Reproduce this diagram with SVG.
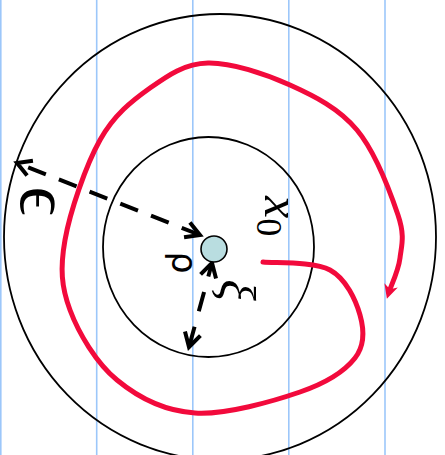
<svg xmlns="http://www.w3.org/2000/svg" width="445" height="455" viewBox="0 0 445 455">
<style>
.grid{stroke:#9cc7fa;stroke-width:1.6}
.ring{fill:none;stroke:#000;stroke-width:1.8}
.dash{fill:none;stroke:#000;stroke-width:4}
.red{fill:none;stroke:#f20a3c;stroke-width:5;stroke-linecap:round}
.serif{font-family:"Liberation Serif","DejaVu Serif",serif;fill:#000}
.sans{font-family:"DejaVu Sans","Liberation Sans",sans-serif;fill:#000}
</style>
<defs>
<marker id="ah" markerUnits="userSpaceOnUse" viewBox="-20 -12 26 24" refX="0" refY="0" markerWidth="26" markerHeight="24" orient="auto-start-reverse">
<path d="M-14,-8 L0,0 L-14,8" fill="none" stroke="#000" stroke-width="4"/>
</marker>
<marker id="rh" markerUnits="userSpaceOnUse" viewBox="-10 -10 20 20" refX="0" refY="0" markerWidth="20" markerHeight="20" orient="auto">
<path d="M7,0 L-7,-7 L-3,0 L-7,7 Z" fill="#f20a3c"/>
</marker>
</defs>
<g id="grid">
<line class="grid" x1="0.8" y1="0" x2="0.8" y2="455"/>
<line class="grid" x1="96.7" y1="0" x2="96.7" y2="455"/>
<line class="grid" x1="192.8" y1="0" x2="192.8" y2="455"/>
<line class="grid" x1="288.8" y1="0" x2="288.8" y2="455"/>
<line class="grid" x1="385" y1="0" x2="385" y2="455"/>
</g>
<g id="outer"><ellipse class="ring" cx="220" cy="237" rx="216" ry="223"/></g>
<g id="inner"><ellipse class="ring" cx="208.5" cy="247" rx="105.5" ry="110"/></g>
<g id="connectors">
<path class="red" d="M263,262 C274.2,263.3 313.8,261.2 330,270 C346.2,278.8 355.8,300.3 360,315 C364.2,329.7 365,345.2 355,358 C345,370.8 326.7,382.8 300,392 C273.3,401.2 225.5,415 195,413 C164.5,411 137.8,397.2 117,380 C96.2,362.8 78.7,333.3 70,310 C61.3,286.7 60,268.3 65,240 C70,211.7 85.8,165.3 100,140 C114.2,114.7 132,100.8 150,88 C168,75.2 184.7,63.5 208,63 C231.3,62.5 265.2,73.8 290,85 C314.8,96.2 339,108.3 357,130 C375,151.7 390.8,193.7 398,215 C405.2,236.3 401.5,245.2 400,258 C398.5,270.8 390.8,286.3 389,292" marker-end="url(#rh)"/>
<path class="dash" d="M17,163 L200,235" stroke-dasharray="19 14" stroke-dashoffset="21" marker-start="url(#ah)" marker-end="url(#ah)"/>
<path class="dash" d="M212,263 L189,347" stroke-dasharray="20 16" stroke-dashoffset="6" marker-start="url(#ah)" marker-end="url(#ah)"/>
</g>
<g id="center"><circle cx="214" cy="249" r="13" fill="#b9dde0" stroke="#000" stroke-width="1.6"/></g>
<g id="label-eps"><text class="serif" transform="translate(21,201) rotate(90)" text-anchor="middle" font-size="72">ϵ</text></g>
<g id="label-rho"><text class="sans" transform="translate(172,262.5) rotate(90)" text-anchor="middle" font-size="35">ρ</text></g>
<g id="label-xi"><text class="serif" transform="translate(220,290) rotate(90)" text-anchor="middle" font-size="50" font-style="italic">ξ</text></g>
<g id="label-x0"><text class="serif" transform="translate(265,196) rotate(90)" font-size="50" font-style="italic">x<tspan font-size="36" font-style="normal" dy="8">0</tspan></text></g>
</svg>
